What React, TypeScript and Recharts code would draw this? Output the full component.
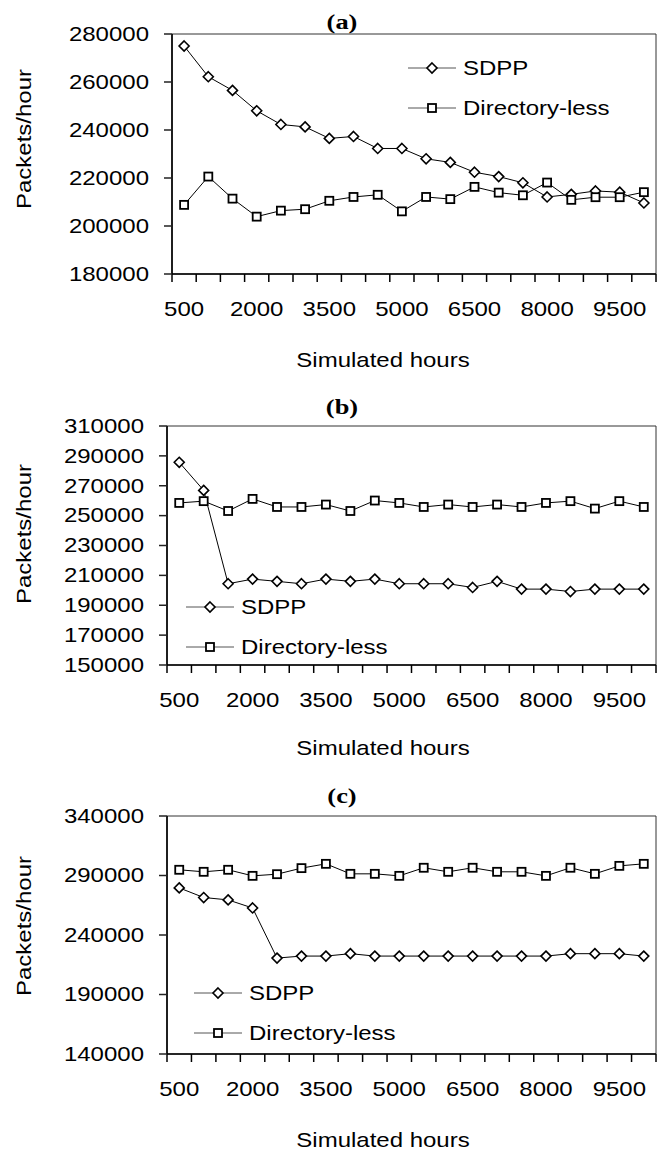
import React from "react";
import { LineChart, Line, XAxis, YAxis, ReferenceArea } from "recharts";

// Simulated hours (x categories)
const hours = [500, 1000, 1500, 2000, 2500, 3000, 3500, 4000, 4500, 5000, 5500, 6000, 6500, 7000, 7500, 8000, 8500, 9000, 9500, 10000];
const xLabelTicks = [500, 2000, 3500, 5000, 6500, 8000, 9500];
// tick marks sit on the category boundaries, Excel style
const xMarkTicks = [...hours.map((h) => h - 250), 10250];

// (a)
const sdppA = [275000, 262200, 256500, 248000, 242300, 241300, 236500, 237300, 232300, 232300, 228000, 226500, 222400, 220600, 218000, 212100, 213200, 214600, 214100, 209600];
const dirlessA = [208800, 220600, 211400, 203900, 206400, 207000, 210500, 212100, 213000, 206100, 212100, 211200, 216300, 213900, 212800, 218100, 210900, 212000, 212000, 214100];
const yTicksA = [180000, 200000, 220000, 240000, 260000, 280000];

// (b)
const sdppB = [285700, 266900, 204400, 207500, 206000, 204400, 207500, 206000, 207500, 204400, 204400, 204400, 201900, 206000, 200800, 200800, 199200, 200800, 200800, 200800];
const dirlessB = [258500, 259700, 253100, 261200, 255800, 255800, 257400, 253100, 260100, 258500, 255800, 257400, 255800, 257400, 255800, 258500, 259700, 254700, 259700, 255800];
const yTicksB = [150000, 170000, 190000, 210000, 230000, 250000, 270000, 290000, 310000];

// (c)
const sdppC = [279600, 271500, 269500, 262700, 220600, 222300, 222300, 224300, 222300, 222300, 222300, 222300, 222300, 222300, 222300, 222300, 224300, 224300, 224300, 222300];
const dirlessC = [294800, 293100, 294800, 289700, 291100, 296200, 299800, 291400, 291400, 289700, 296500, 293100, 296500, 293100, 293100, 289700, 296500, 291400, 298100, 299800];
const yTicksC = [140000, 190000, 240000, 290000, 340000];

const SANS = "'Liberation Sans', Arial, sans-serif";
const SERIF = "'Liberation Serif', 'Times New Roman', serif";
const CHART_W = 667;
const RIGHT = 11;

// the source text is drawn wide, so stretch it a little along its reading direction
const WideText = ({ x, y, anchor = "middle", rotate = false, size = 20, bold = false, family = SANS, stretch = 1.2, children }: any) => (
  <g transform={`translate(${x},${y})${rotate ? " rotate(-90)" : ""}`}>
    <text
      transform={`scale(${stretch},1)`}
      textAnchor={anchor}
      dominantBaseline="central"
      fontFamily={family}
      fontSize={size}
      fontWeight={bold ? "bold" : "normal"}
      fill="#000"
    >
      {children}
    </text>
  </g>
);

const Diamond = ({ cx, cy }: any) => (
  <polygon
    points={`${cx},${cy - 5} ${cx + 5},${cy} ${cx},${cy + 5} ${cx - 5},${cy}`}
    fill="#fff"
    stroke="#000"
    strokeWidth={1.6}
  />
);

const Square = ({ cx, cy }: any) => (
  <rect x={cx - 4} y={cy - 4} width={8} height={8} fill="#fff" stroke="#000" strokeWidth={1.8} />
);

const YTick = ({ x, y, payload }: any) => (
  <WideText x={x} y={y} anchor="end">{payload.value}</WideText>
);

// ticks are the category boundaries; the label belongs to the category to the right of a boundary
const makeXTick = (band: number) => ({ x, y, payload }: any) => {
  const category = payload.value + 250;
  if (!xLabelTicks.includes(category)) return <g />;
  return <WideText x={x + band / 2} y={y}>{category}</WideText>;
};

interface PanelProps {
  title: string;
  sdpp: number[];
  dirless: number[];
  yTicks: number[];
  height: number;
  plotTop: number;
  plotBottom: number;
  axisX: number;
  titleY: number;
  xTitleY: number;
  yTitleY: number;
  legendX: number;
  legendY: number;
}

const Panel = ({ title, sdpp, dirless, yTicks, height, plotTop, plotBottom, axisX, titleY, xTitleY, yTitleY, legendX, legendY }: PanelProps) => {
  const data = hours.map((h, i) => ({ hours: h, sdpp: sdpp[i], dirless: dirless[i] }));
  const yMin = yTicks[0];
  const yMax = yTicks[yTicks.length - 1];
  const bottom = height - plotBottom - 40;
  const band = (CHART_W - axisX - RIGHT) / hours.length;
  const XTick = makeXTick(band);

  return (
    <LineChart width={CHART_W} height={height} data={data} margin={{ top: plotTop, right: RIGHT, left: 0, bottom }}>
      <XAxis
        dataKey="hours"
        type="number"
        domain={[250, 10250]}
        allowDataOverflow
        ticks={xMarkTicks}
        interval={0}
        axisLine={{ stroke: "#000", strokeWidth: 1.6 }}
        tickLine={{ stroke: "#000", strokeWidth: 1.5 }}
        tickSize={8}
        tickMargin={27}
        height={40}
        tick={<XTick />}
      />
      <YAxis
        type="number"
        domain={[yMin, yMax]}
        ticks={yTicks}
        interval={0}
        width={axisX}
        tickSize={8}
        tickMargin={15}
        axisLine={{ stroke: "#000", strokeWidth: 1.6 }}
        tickLine={{ stroke: "#222", strokeWidth: 1.5 }}
        tick={<YTick />}
      />
      <ReferenceArea x1={250} x2={10250} y1={yMin} y2={yMax} fill="none" stroke="#333" strokeWidth={1} />
      <Line
        dataKey="sdpp"
        name="SDPP"
        stroke="#000"
        strokeWidth={1}
        dot={(p: any) => <Diamond key={`d-${p.index}`} cx={p.cx} cy={p.cy} />}
        isAnimationActive={false}
      />
      <Line
        dataKey="dirless"
        name="Directory-less"
        stroke="#000"
        strokeWidth={1}
        dot={(p: any) => <Square key={`s-${p.index}`} cx={p.cx} cy={p.cy} />}
        isAnimationActive={false}
      />

      <WideText x={342} y={titleY} family={SERIF} size={22} stretch={1.2} bold>{title}</WideText>
      <WideText x={383} y={xTitleY}>Simulated hours</WideText>
      <WideText x={24} y={yTitleY} rotate>Packets/hour</WideText>

      <g>
        <line x1={legendX} x2={legendX + 48} y1={legendY} y2={legendY} stroke="#555" />
        <Diamond cx={legendX + 24} cy={legendY} />
        <WideText x={legendX + 55} y={legendY} anchor="start">SDPP</WideText>
        <line x1={legendX} x2={legendX + 48} y1={legendY + 40} y2={legendY + 40} stroke="#555" />
        <Square cx={legendX + 24} cy={legendY + 40} />
        <WideText x={legendX + 55} y={legendY + 40} anchor="start">Directory-less</WideText>
      </g>
    </LineChart>
  );
};

export default function App() {
  return (
    <div style={{ position: "absolute", top: 0, left: 0, width: 667, height: 1152, background: "#fff" }}>
      <div style={{ position: "absolute", top: 0, left: 0 }}>
        <Panel title="(a)" sdpp={sdppA} dirless={dirlessA} yTicks={yTicksA} height={380}
          plotTop={34} plotBottom={274} axisX={172} titleY={21} xTitleY={360} yTitleY={139}
          legendX={408} legendY={68} />
      </div>
      <div style={{ position: "absolute", top: 380, left: 0 }}>
        <Panel title="(b)" sdpp={sdppB} dirless={dirlessB} yTicks={yTicksB} height={380}
          plotTop={46} plotBottom={285} axisX={167} titleY={26} xTitleY={368} yTitleY={154}
          legendX={186} legendY={227} />
      </div>
      <div style={{ position: "absolute", top: 760, left: 0 }}>
        <Panel title="(c)" sdpp={sdppC} dirless={dirlessC} yTicks={yTicksC} height={392}
          plotTop={56} plotBottom={294} axisX={167} titleY={35} xTitleY={380} yTitleY={166}
          legendX={194} legendY={233} />
      </div>
    </div>
  );
}
